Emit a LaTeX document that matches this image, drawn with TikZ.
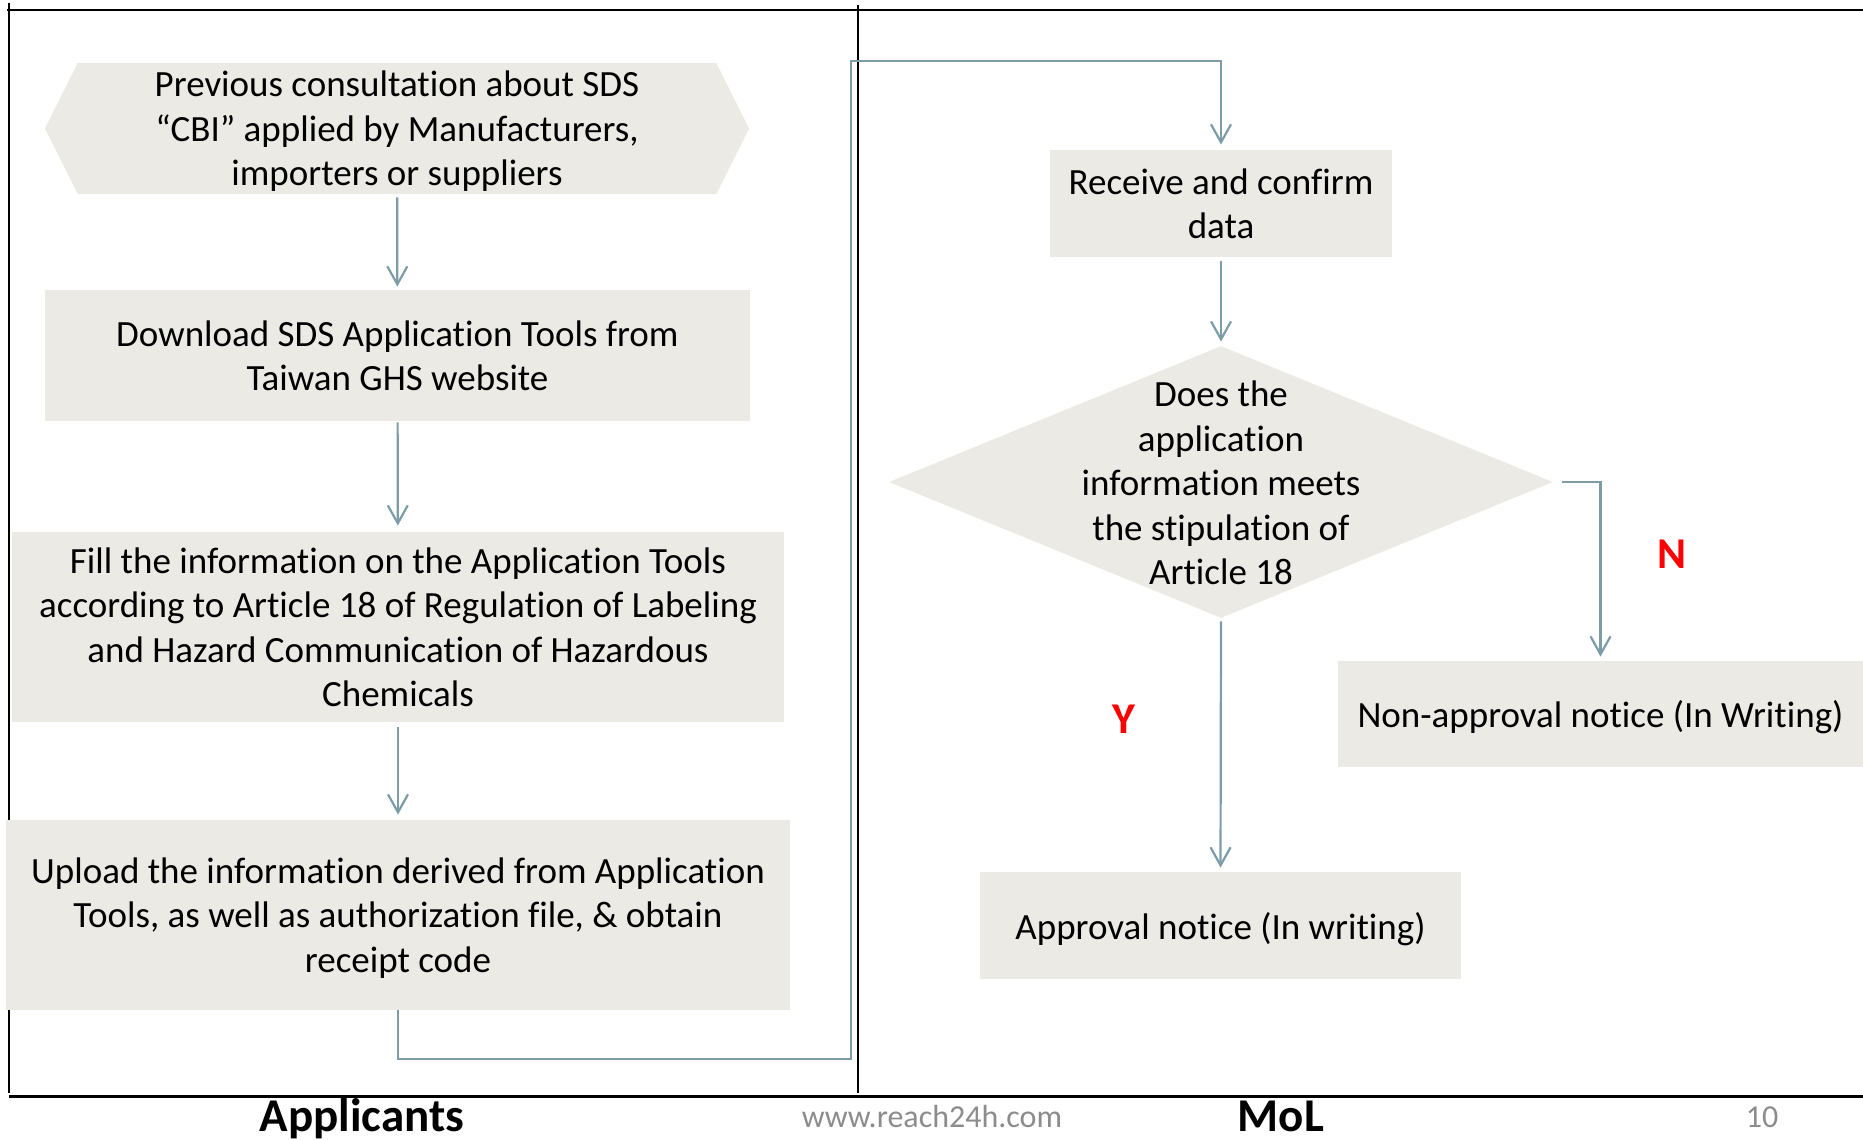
\documentclass[tikz,border=0pt]{standalone}
\usepackage{fontspec}
\setmainfont{Carlito}[Ligatures={TeX,NoCommon}]
\usetikzlibrary{arrows.meta,shapes.geometric,shapes.symbols}
\definecolor{boxgray}{HTML}{EBEAE5}
\definecolor{linkblue}{HTML}{7C9CA8}
\definecolor{footgray}{HTML}{8C8C8C}
\newcommand{\flowfont}{\fontsize{18.5}{22.25}\selectfont}
\newcommand{\footfont}{\fontsize{23.5}{28}\selectfont\bfseries}
\tikzset{
    stepbox/.style={fill=boxgray, inner sep=0pt, text depth=0pt, align=center, font=\flowfont},
    flowline/.style={draw=linkblue, line width=1.1pt, -{Straight Barb[length=9pt, width=10pt]}},
    framerule/.style={draw=black, line width=0.8pt},
    yesno/.style={text=red, font=\fontsize{22}{26}\selectfont\bfseries},
    footnote/.style={inner sep=0pt, anchor=base},
}
\begin{document}
    \begin{tikzpicture}[x=0.5pt, y=-0.5pt]
        \useasboundingbox (0, 0) rectangle (1863, 1140);
        \draw[framerule, line width=1pt] (7, 9.5) -- (1863, 9.5);
        \draw[framerule] (9, 3) -- (9, 1093);
        \draw[framerule] (858, 5) -- (858, 1093);
        \draw[framerule, line width=1.5pt] (9, 1096) -- (1863, 1096);
        \node[stepbox, signal, signal to=east and west, signal pointer angle=127, minimum width=352pt, minimum height=65.5pt] (consult) at (397, 128.5) {Previous consultation about SDS\\“CBI” applied by Manufacturers,\\importers or suppliers};
        \node[stepbox, minimum width=352.5pt, minimum height=65.5pt] (download) at (397.5, 355.5) {Download SDS Application Tools from\\Taiwan GHS website};
        \node[stepbox, minimum width=386pt, minimum height=95pt] (fill) at (398, 627) {Fill the information on the Application Tools\\according to Article 18 of Regulation of Labeling\\and Hazard Communication of Hazardous\\Chemicals};
        \node[stepbox, minimum width=392pt, minimum height=95pt] (upload) at (398, 915) {Upload the information derived from Application\\Tools, as well as authorization file, \& obtain\\receipt code};
        \node[stepbox, minimum width=171pt, minimum height=53.5pt] (receive) at (1221, 203.5) {Receive and confirm\\data};
        \node[stepbox, diamond, aspect=2.44, minimum width=332pt, minimum height=136pt] (check) at (1221, 482) {};
        \node[align=center, font=\flowfont] (checktext) at (1221, 483) {Does the\\application\\information meets\\the stipulation of\\Article 18};
        \node[stepbox, minimum width=262.5pt, minimum height=53pt] (refuse) at (1600.5, 714) {Non-approval notice (In Writing)};
        \node[stepbox, minimum width=240.5pt, minimum height=53.5pt] (approve) at (1220.5, 925.5) {Approval notice (In writing)};
        \coordinate (loopbot) at (851, 1059);
        \coordinate (looptop) at (851, 61);
        \draw[flowline, shorten <=1.5pt, shorten >=1.5pt] (consult) -- (download);
        \draw[flowline, shorten <=0.5pt, shorten >=3pt] (download) -- (fill);
        \draw[flowline, shorten <=2.5pt, shorten >=2.5pt] (fill) -- (upload);
        \draw[flowline, shorten >=2.5pt] (upload.south) |- (loopbot) -- (looptop) -| (receive.north);
        \draw[flowline, shorten <=2pt, shorten >=2pt] (receive) -- (check);
        \draw[flowline, shorten <=4.5pt, shorten >=2pt] (check.east) -| (refuse.north);
        \draw[flowline, shorten <=1.5pt, shorten >=2pt] (check.south) -- (approve.north);
        \node[yesno] (nolabel) at (1672, 554) {N};
        \node[yesno] (yeslabel) at (1124, 719) {Y};
        \node[footnote, font=\footfont] (applicants) at (362, 1131) {Applicants};
        \node[footnote, font=\footfont] (mol) at (1281, 1131) {MoL};
        \node[footnote, text=footgray, font=\fontsize{16}{19}\selectfont] (site) at (932, 1127) {www.reach24h.com};
        \node[footnote, text=footgray, font=\fontsize{16}{19}\selectfont] (pagenum) at (1762, 1127) {10};
    \end{tikzpicture}
\end{document}
